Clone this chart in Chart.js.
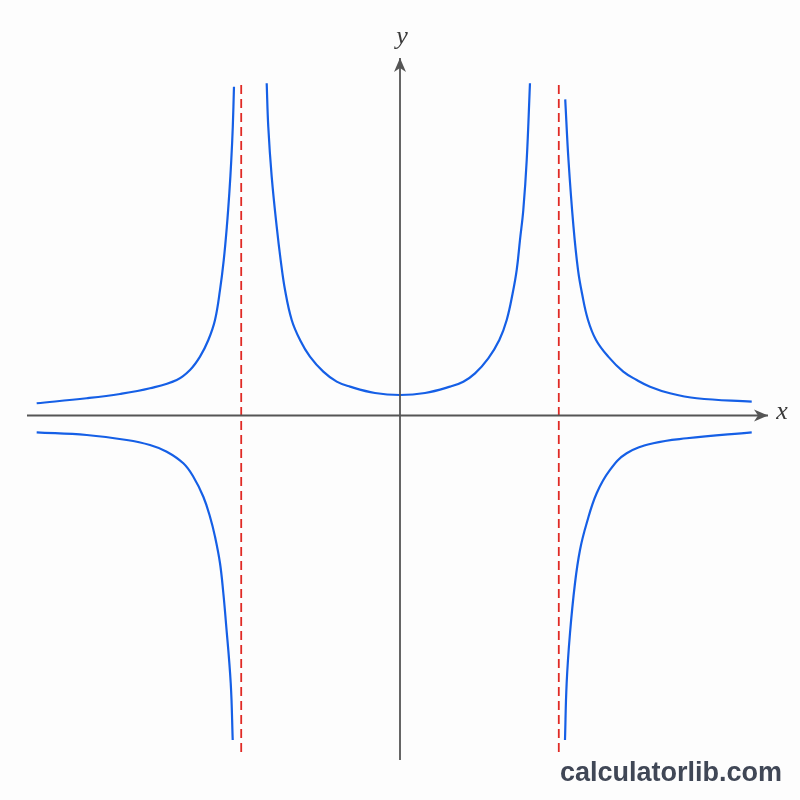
<!DOCTYPE html>
<html>
<head>
<meta charset="utf-8">
<title>Vertical asymptotes</title>
<script src="https://cdn.jsdelivr.net/npm/chart.js@4/dist/chart.umd.min.js"></script>
<style>
  html, body { margin: 0; padding: 0; background: #fdfdfd; }
  #wrap { width: 800px; height: 800px; }
</style>
</head>
<body>
<div id="wrap"><canvas id="graph" width="800" height="800"></canvas></div>
<script>
// curve branches, [x, y]
const upperLeft = [
  [-4.576, 0.154], [-3.946, 0.217], [-3.526, 0.271], [-3.149, 0.343],
  [-2.812, 0.447], [-2.645, 0.573], [-2.519, 0.741], [-2.414, 0.951],
  [-2.330, 1.203], [-2.267, 1.581], [-2.220, 1.958], [-2.181, 2.378],
  [-2.150, 2.798], [-2.125, 3.218], [-2.106, 3.637], [-2.091, 4.141]
];
const middle = [
  [-1.679, 4.184], [-1.659, 3.637], [-1.616, 3.008], [-1.553, 2.378],
  [-1.503, 1.958], [-1.448, 1.581], [-1.364, 1.203], [-1.259, 0.951],
  [-1.134, 0.741], [-0.966, 0.552], [-0.797, 0.426], [-0.630, 0.363],
  [-0.315, 0.283], [0, 0.258], [0.315, 0.283], [0.630, 0.363],
  [0.797, 0.426], [0.945, 0.531], [1.112, 0.720], [1.251, 0.951],
  [1.344, 1.203], [1.419, 1.539], [1.470, 1.833], [1.511, 2.210],
  [1.553, 2.588], [1.596, 3.218], [1.637, 4.184]
];
const lowerLeft = [
  [-4.576, -0.212], [-3.946, -0.246], [-3.442, -0.309], [-3.149, -0.372],
  [-2.938, -0.456], [-2.729, -0.602], [-2.603, -0.771], [-2.477, -1.023],
  [-2.393, -1.275], [-2.330, -1.526], [-2.267, -1.861], [-2.225, -2.239],
  [-2.195, -2.576], [-2.132, -3.373], [-2.107, -4.087]
];
const upperRight = [
  [2.081, 3.982], [2.122, 3.218], [2.185, 2.378], [2.242, 1.833],
  [2.292, 1.539], [2.368, 1.203], [2.469, 0.951], [2.623, 0.741],
  [2.812, 0.552], [2.981, 0.447], [3.149, 0.363], [3.400, 0.280],
  [3.737, 0.217], [4.430, 0.174]
];
const lowerRight = [
  [2.078, -4.087], [2.099, -3.373], [2.141, -2.743], [2.204, -2.113],
  [2.267, -1.694], [2.351, -1.358], [2.477, -0.980], [2.645, -0.686],
  [2.855, -0.476], [3.190, -0.350], [3.611, -0.287], [4.430, -0.212]
];

// asymptotes x = -2 and x = 2, and the axis extents
const asymptoteX = [-2, 2];
const asymptoteY = [-4.238, 4.200];
const xAxisRange = [-4.698, 4.635];
const yAxisRange = [-4.339, 4.503];
const axisNames = ['x', 'y'];
const watermark = 'calculatorlib.com';

const BLUE = '#155fe6';
const RED = '#e02a25';
const AXIS = '#555555';

const toPts = arr => arr.map(p => ({ x: p[0], y: p[1] }));

function curve(arr) {
  return {
    data: toPts(arr),
    borderColor: BLUE,
    borderWidth: 2.2,
    pointRadius: 0,
    showLine: true,
    tension: 0.4
  };
}

function dashed(x) {
  return {
    data: [{ x: x, y: asymptoteY[0] }, { x: x, y: asymptoteY[1] }],
    borderColor: RED,
    borderWidth: 1.8,
    borderDash: [9, 5],
    pointRadius: 0,
    showLine: true
  };
}

const axisLines = [
  { data: [{ x: xAxisRange[0], y: 0 }, { x: xAxisRange[1], y: 0 }] },
  { data: [{ x: 0, y: yAxisRange[0] }, { x: 0, y: yAxisRange[1] }] }
].map(d => Object.assign(d, {
  borderColor: AXIS, borderWidth: 1.8, pointRadius: 0, showLine: true
}));

// arrow heads, axis names and the site mark
const decorations = {
  id: 'decorations',
  afterDatasetsDraw(chart) {
    const ctx = chart.ctx;
    const sx = chart.scales.x, sy = chart.scales.y;
    const ox = sx.getPixelForValue(0), oy = sy.getPixelForValue(0);
    const xt = sx.getPixelForValue(xAxisRange[1]);
    const yt = sy.getPixelForValue(yAxisRange[1]);

    ctx.save();
    ctx.fillStyle = AXIS;
    // x arrow
    ctx.beginPath();
    ctx.moveTo(xt, oy);
    ctx.lineTo(xt - 14, oy - 6);
    ctx.lineTo(xt - 10, oy);
    ctx.lineTo(xt - 14, oy + 6);
    ctx.closePath();
    ctx.fill();
    // y arrow
    ctx.beginPath();
    ctx.moveTo(ox, yt);
    ctx.lineTo(ox - 6, yt + 14);
    ctx.lineTo(ox, yt + 10);
    ctx.lineTo(ox + 6, yt + 14);
    ctx.closePath();
    ctx.fill();

    ctx.fillStyle = '#3a3a3a';
    ctx.font = 'italic 26px "Liberation Serif", "DejaVu Serif", serif';
    ctx.textAlign = 'center';
    ctx.textBaseline = 'middle';
    ctx.fillText(axisNames[0], xt + 14, oy - 3);
    ctx.fillText(axisNames[1], ox + 2, yt - 21);

    ctx.fillStyle = '#404756';
    ctx.font = 'bold 27px "Liberation Sans", Arial, sans-serif';
    ctx.textAlign = 'right';
    ctx.textBaseline = 'alphabetic';
    ctx.fillText(watermark, 782, 781);
    ctx.restore();
  }
};

new Chart(document.getElementById('graph'), {
  type: 'scatter',
  data: {
    datasets: [
      ...axisLines,
      dashed(asymptoteX[0]),
      dashed(asymptoteX[1]),
      curve(upperLeft),
      curve(middle),
      curve(lowerLeft),
      curve(upperRight),
      curve(lowerRight)
    ]
  },
  options: {
    responsive: false,
    animation: false,
    layout: { padding: 0 },
    plugins: { legend: { display: false }, tooltip: { enabled: false } },
    scales: {
      x: { type: 'linear', display: false, min: -5.038, max: 5.038 },
      y: { type: 'linear', display: false, min: -4.843, max: 5.233 }
    }
  },
  plugins: [decorations]
});
</script>
</body>
</html>
